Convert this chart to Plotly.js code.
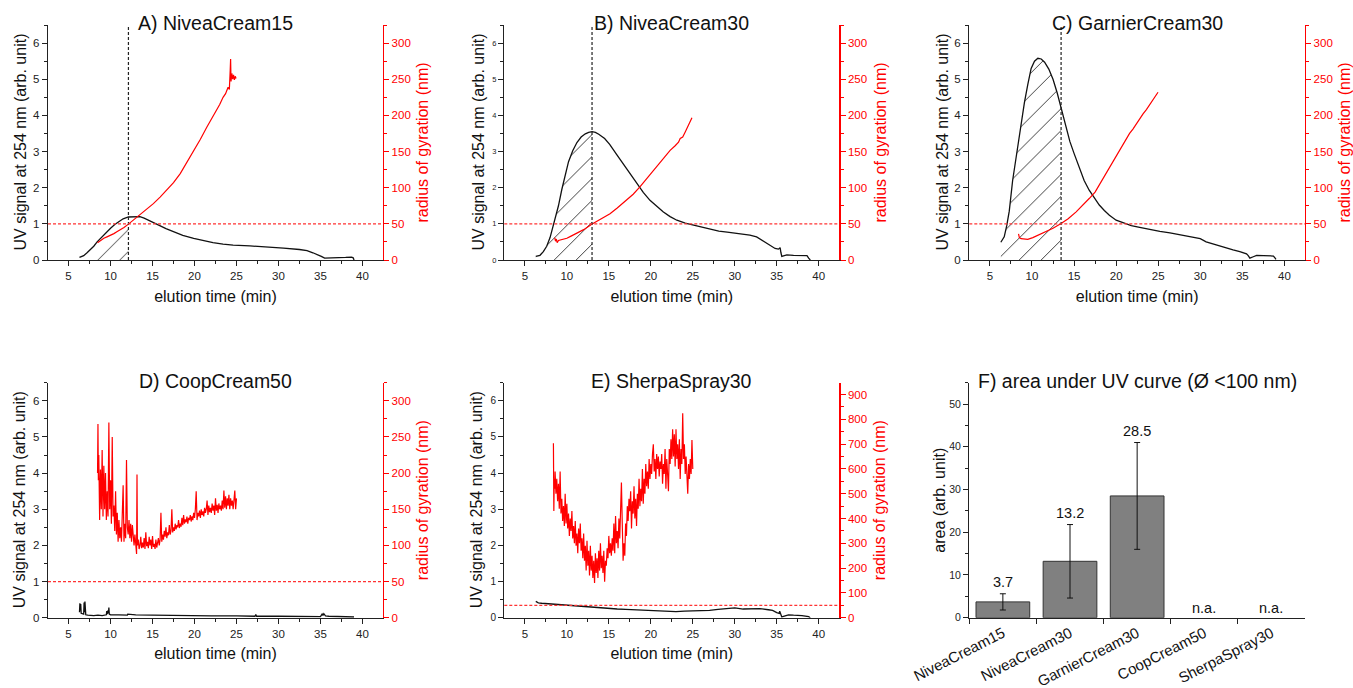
<!DOCTYPE html>
<html><head><meta charset="utf-8">
<script src="https://cdn.plot.ly/plotly-3.0.1.min.js"></script>
<style>html,body{margin:0;padding:0;background:#fff}#chart{width:1353px;height:688px}</style>
</head><body><div id="chart"></div>
<script>
// ---------- data ----------
const A_uv_t = [6.3, 6.8, 7.2, 7.6, 8.0, 8.4, 8.8, 9.2, 9.6, 10.0, 10.5, 11.0, 11.5, 12.13, 12.6, 13.0, 13.5, 14.0, 14.5, 15.1, 15.8, 16.6, 17.5, 18.6, 19.9, 21.0, 22.2, 23.4, 24.6, 26.6, 28.6, 30.6, 32.5, 33.4, 34.1, 34.7, 35.1, 35.5, 36.0, 37.0, 38.0, 38.7, 38.9, 39.0];
const A_uv = [0.07, 0.12, 0.2, 0.28, 0.38, 0.5, 0.6, 0.7, 0.8, 0.88, 0.98, 1.07, 1.14, 1.19, 1.2, 1.21, 1.2, 1.16, 1.11, 1.05, 0.96, 0.87, 0.78, 0.68, 0.6, 0.54, 0.48, 0.44, 0.41, 0.39, 0.37, 0.33, 0.29, 0.26, 0.2, 0.15, 0.1, 0.05, 0.05, 0.06, 0.07, 0.08, 0.06, 0.0];
const A_rg_t = [8.45, 8.8, 9.2, 9.57, 10.0, 10.4, 10.75, 11.2, 11.6, 12.13, 12.8, 13.5, 14.3, 15.1, 15.9, 16.7, 17.5, 18.3, 19.1, 19.86, 20.7, 21.46, 22.1, 22.65, 23.0, 23.4, 23.7, 24.0, 24.15, 24.25, 24.3, 24.35, 24.45, 24.55, 24.65, 24.75, 24.85, 24.95];
const A_rg = [24, 27, 30, 32, 34, 36.5, 39, 42, 45, 49.6, 56, 64, 71, 78, 87, 96.5, 107, 119.5, 135, 151.6, 167, 183.7, 196, 206.7, 215, 225, 230, 239, 236, 262, 278, 247, 258, 250, 256, 249, 254, 251];
const A_cut = 12.13;

const B_uv_t = [6.3, 6.8, 7.2, 7.6, 8.0, 8.5, 9.0, 9.4, 9.8, 10.2, 10.7, 11.2, 11.7, 12.2, 12.6, 13.0, 13.4, 13.8, 14.5, 15.1, 15.9, 16.7, 17.5, 18.3, 19.1, 19.9, 20.7, 21.5, 22.3, 23.1, 24.1, 25.1, 26.1, 27.1, 28.1, 29.1, 30.1, 31.0, 31.8, 32.6, 33.2, 33.8, 34.3, 34.8, 35.2, 35.4, 35.5, 35.6, 35.9, 36.2, 37.0, 38.0, 38.6, 38.8, 39.0];
const B_uv = [0.1, 0.13, 0.23, 0.38, 0.62, 1.05, 1.5, 1.95, 2.35, 2.72, 3.02, 3.25, 3.4, 3.49, 3.53, 3.55, 3.53, 3.48, 3.36, 3.2, 2.93, 2.66, 2.38, 2.11, 1.87, 1.65, 1.48, 1.33, 1.2, 1.1, 1.02, 0.96, 0.9, 0.84, 0.8, 0.77, 0.74, 0.71, 0.69, 0.64, 0.55, 0.46, 0.38, 0.32, 0.3, 0.34, 0.2, 0.1, 0.12, 0.14, 0.13, 0.12, 0.12, 0.05, 0.0];
const B_rg_t = [8.55, 8.65, 8.75, 8.85, 9.0, 9.3, 9.6, 10.0, 10.5, 11.2, 12.0, 12.96, 13.8, 14.5, 15.14, 16.0, 17.1, 17.9, 18.7, 19.5, 20.2, 20.7, 21.5, 22.3, 22.9, 23.3, 23.5, 23.8, 24.1, 24.4, 24.7, 24.9];
const B_rg = [31, 26, 29, 24, 27, 28, 28.5, 30, 33, 36.7, 42, 49.6, 55, 60, 64, 72, 82.7, 91, 101, 112, 122, 128.6, 140, 151.6, 158, 163, 168, 170, 177, 184, 190, 196.6];
const B_cut = 13.0;

const C_uv_t = [6.3, 6.7, 7.0, 7.3, 7.7, 8.2, 8.5, 8.8, 9.1, 9.5, 9.9, 10.3, 10.7, 11.1, 11.5, 12.0, 12.5, 13.0, 13.46, 14.0, 14.5, 15.0, 15.6, 16.2, 16.8, 17.4, 18.0, 18.6, 19.2, 20.0, 20.8, 21.8, 22.8, 24.0, 25.2, 26.4, 27.6, 28.4, 29.2, 30.0, 30.7, 31.5, 32.3, 33.1, 33.9, 34.7, 35.5, 35.7, 35.9, 36.3, 36.7, 37.5, 38.7, 38.9, 39.0];
const C_uv = [0.49, 0.64, 0.95, 1.35, 2.2, 3.0, 3.45, 3.9, 4.35, 4.85, 5.3, 5.5, 5.58, 5.56, 5.47, 5.28, 5.0, 4.62, 4.2, 3.72, 3.28, 2.95, 2.55, 2.2, 1.93, 1.72, 1.52, 1.37, 1.24, 1.1, 1.03, 0.95, 0.9, 0.84, 0.79, 0.75, 0.7, 0.67, 0.64, 0.59, 0.5, 0.44, 0.38, 0.32, 0.28, 0.23, 0.17, 0.12, 0.05, 0.09, 0.13, 0.12, 0.11, 0.05, 0.02];
const C_rg_t = [8.4, 8.45, 8.5, 8.7, 9.1, 9.5, 10.1, 10.8, 11.7, 12.5, 13.46, 14.3, 15.25, 16.0, 16.8, 17.5, 18.4, 19.2, 20.0, 20.8, 21.6, 22.0, 22.4, 22.8, 23.2, 23.6, 24.0, 24.5, 24.98];
const C_rg = [36, 33, 31, 29.5, 28.5, 28.5, 31, 35, 39, 44, 50.5, 57, 66.6, 75, 85, 94, 112, 128, 144, 160, 175, 181, 188, 196, 202, 208, 215, 223, 232];
const C_cut = 13.46;

const D_uv_t = [6.3, 6.35, 6.4, 6.45, 6.5, 6.8, 6.85, 6.9, 6.95, 7.0, 7.05, 7.3, 7.6, 8.0, 8.5, 9.0, 9.5, 9.55, 9.6, 9.7, 9.75, 9.8, 9.85, 10.0, 11.0, 12.0, 12.05, 13, 15, 17, 20, 22, 25, 27.2, 27.3, 27.4, 30, 33, 35.0, 35.2, 35.3, 35.4, 35.6, 36.0, 37, 38, 39];
const D_uv = [0.15, 0.4, 0.2, 0.38, 0.12, 0.1, 0.42, 0.15, 0.45, 0.12, 0.08, 0.07, 0.06, 0.06, 0.07, 0.06, 0.08, 0.18, 0.1, 0.2, 0.12, 0.28, 0.1, 0.08, 0.08, 0.07, 0.1, 0.08, 0.07, 0.06, 0.05, 0.05, 0.05, 0.04, 0.09, 0.04, 0.04, 0.03, 0.03, 0.1, 0.06, 0.11, 0.05, 0.04, 0.03, 0.02, 0.02];
const D_rg_t = [
 8.45, 8.5, 8.55, 8.6, 8.7, 8.8, 8.9, 9.0, 9.1, 9.2,
 9.3, 9.4, 9.5, 9.6, 9.7, 9.8, 9.9, 10.0, 10.1, 10.2,
 10.3, 10.4, 10.5, 10.6, 10.7, 10.8, 10.9, 11.0, 11.1, 11.2,
 11.3, 11.4, 11.5, 11.6, 11.7, 11.8, 11.9, 12.0, 12.1, 12.2,
 12.3, 12.4, 12.5, 12.6, 12.7, 12.8, 12.9, 13.0, 13.1, 13.15,
 13.2, 13.3, 13.4, 13.5, 13.6, 13.7, 13.8, 13.9, 14.0, 14.1,
 14.2, 14.3, 14.4, 14.5, 14.6, 14.7, 14.8, 14.9, 15.0, 15.1,
 15.2, 15.3, 15.4, 15.5, 15.6, 15.7, 15.8, 15.9, 16.0, 16.1,
 16.2, 16.3, 16.4, 16.5, 16.6, 16.7, 16.8, 16.9, 17.0, 17.1,
 17.2, 17.3, 17.4, 17.5, 17.6, 17.7, 17.8, 17.9, 18.0, 18.1,
 18.2, 18.3, 18.4, 18.5, 18.6, 18.7, 18.8, 18.9, 19.0, 19.1,
 19.2, 19.3, 19.4, 19.5, 19.6, 19.7, 19.8, 19.9, 20.0, 20.1,
 20.2, 20.3, 20.4, 20.5, 20.6, 20.7, 20.8, 20.9, 21.0, 21.1,
 21.2, 21.3, 21.4, 21.5, 21.6, 21.7, 21.8, 21.9, 22.0, 22.1,
 22.2, 22.3, 22.4, 22.5, 22.6, 22.7, 22.8, 22.9, 23.0, 23.1,
 23.2, 23.3, 23.4, 23.5, 23.6, 23.7, 23.8, 23.9, 24.0, 24.1,
 24.2, 24.3, 24.4, 24.5, 24.6, 24.7, 24.8, 24.9, 25.0];
const D_rg = [
 200, 268, 190, 225, 135, 205, 150, 232, 140, 210,
 150, 200, 135, 175, 140, 270, 150, 190, 130, 250,
 140, 155, 120, 175, 115, 145, 105, 135, 110, 125,
 105, 140, 183, 105, 130, 110, 218, 125, 115, 135,
 110, 130, 105, 128, 110, 100, 115, 95, 88, 198,
 100, 108, 95, 100, 112, 96, 104, 97, 110, 95,
 118, 99, 105, 96, 112, 100, 108, 95, 113, 98,
 102, 95, 108, 97, 104, 110, 100, 108, 145, 105,
 115, 108, 120, 112, 125, 110, 118, 114, 128, 115,
 120, 150, 118, 125, 120, 130, 122, 128, 125, 135,
 124, 130, 126, 138, 128, 142, 130, 136, 132, 140,
 130, 138, 135, 142, 133, 140, 135, 145, 138, 150,
 175, 135, 145, 140, 148, 138, 150, 142, 147, 140,
 152, 145, 150, 162, 142, 155, 146, 152, 145, 158,
 148, 155, 142, 165, 148, 156, 145, 158, 150, 155,
 148, 162, 150, 176, 152, 168, 150, 165, 155, 170,
 150, 165, 155, 162, 150, 160, 176, 150, 165];

const E_uv_t = [6.3, 6.6, 7.0, 8, 9, 10, 11, 12, 13, 14, 15, 16, 17, 18, 19, 20, 21, 22, 23, 24, 25, 26, 27, 28, 29, 30, 31, 32, 32.5, 33, 34, 34.5, 35.0, 35.3, 35.35, 35.45, 35.6, 36.0, 36.4, 37, 38, 38.8, 39.0];
const E_uv = [0.45, 0.41, 0.4, 0.38, 0.36, 0.34, 0.32, 0.31, 0.29, 0.28, 0.26, 0.24, 0.23, 0.22, 0.2, 0.19, 0.18, 0.17, 0.17, 0.18, 0.18, 0.19, 0.2, 0.23, 0.26, 0.27, 0.24, 0.25, 0.26, 0.25, 0.22, 0.2, 0.14, 0.12, 0.18, 0.08, 0.02, 0.05, 0.08, 0.07, 0.06, 0.03, 0.0];
const E_rg_t = [
 8.4, 8.45, 8.5, 8.55, 8.6, 8.7, 8.8, 8.9, 9.0, 9.1,
 9.2, 9.3, 9.4, 9.5, 9.6, 9.7, 9.8, 9.9, 10.0, 10.1,
 10.2, 10.3, 10.4, 10.5, 10.6, 10.7, 10.8, 10.9, 11.0, 11.1,
 11.2, 11.3, 11.4, 11.5, 11.6, 11.7, 11.8, 11.9, 12.0, 12.1,
 12.2, 12.3, 12.4, 12.5, 12.6, 12.7, 12.8, 12.9, 13.0, 13.1,
 13.2, 13.3, 13.4, 13.5, 13.6, 13.7, 13.8, 13.9, 14.0, 14.1,
 14.2, 14.3, 14.4, 14.5, 14.6, 14.7, 14.8, 14.9, 15.0, 15.1,
 15.2, 15.3, 15.4, 15.5, 15.6, 15.7, 15.8, 15.9, 16.0, 16.1,
 16.2, 16.3, 16.4, 16.5, 16.6, 16.7, 16.8, 16.9, 17.0, 17.1,
 17.2, 17.3, 17.4, 17.5, 17.6, 17.7, 17.8, 17.9, 18.0, 18.1,
 18.2, 18.3, 18.4, 18.5, 18.6, 18.7, 18.8, 18.9, 19.0, 19.1,
 19.2, 19.3, 19.4, 19.5, 19.6, 19.7, 19.8, 19.9, 20.0, 20.1,
 20.2, 20.3, 20.4, 20.5, 20.6, 20.7, 20.8, 20.9, 21.0, 21.1,
 21.2, 21.3, 21.4, 21.5, 21.6, 21.7, 21.8, 21.9, 22.0, 22.1,
 22.2, 22.3, 22.4, 22.5, 22.6, 22.7, 22.8, 22.9, 23.0, 23.1,
 23.2, 23.3, 23.4, 23.5, 23.6, 23.7, 23.8, 23.9, 24.0, 24.1,
 24.2, 24.3, 24.4, 24.5, 24.6, 24.7, 24.8, 24.9, 25.0];
const E_rg = [
 704, 430, 560, 520, 590, 500, 560, 470, 540, 440,
 590, 420, 480, 390, 450, 370, 500, 380, 460, 360,
 420, 330, 400, 350, 430, 320, 370, 300, 390, 290,
 340, 260, 360, 300, 380, 270, 320, 240, 340, 230,
 290, 190, 310, 210, 270, 170, 290, 190, 250, 160,
 230, 140, 260, 180, 240, 160, 270, 190, 300, 200,
 250, 180, 270, 145, 230, 210, 280, 240, 330, 260,
 300, 250, 320, 270, 380, 260, 410, 300, 350, 280,
 400, 320, 450, 545, 380, 230, 300, 250, 380, 330,
 450, 390, 480, 430, 510, 360, 470, 420, 530, 400,
 480, 370, 500, 440, 560, 450, 520, 470, 600, 460,
 560, 500, 620, 530, 590, 520, 640, 560, 620, 580,
 660, 700, 590, 640, 560, 660, 600, 650, 570, 630,
 600, 660, 540, 620, 580, 680, 520, 640, 580, 510,
 680, 620, 720, 640, 760, 650, 740, 610, 760, 640,
 700, 600, 720, 560, 680, 620, 825, 640, 700, 580,
 650, 540, 500, 620, 560, 640, 580, 717, 600];

const F_categories = ['NiveaCream15', 'NiveaCream30', 'GarnierCream30', 'CoopCream50', 'SherpaSpray30'];
const F_values = [3.7, 13.2, 28.5, null, null];
const F_errors = [1.9, 8.6, 12.5, null, null];
const F_labels = ['3.7', '13.2', '28.5', 'n.a.', 'n.a.'];
const Rg_threshold = 50;

// ---------- layout helpers ----------
const W = 1353, H = 688;
const FONT = 'Liberation Sans, Arial, sans-serif';
const px = (a, b) => [a / W, b / W];
const py = (top, bot) => [1 - bot / H, 1 - top / H];
const RED = '#ff0000';

const panels = [
  {title: 'A) NiveaCream15', t: A_uv_t, uv: A_uv, rt: A_rg_t, rg: A_rg, cut: A_cut, xp: [48, 383], yp: [25, 260], rmax: 325, rdt: 50, lfs: 11.5, lt: 20, rtx: 422},
  {title: 'B) NiveaCream30', t: B_uv_t, uv: B_uv, rt: B_rg_t, rg: B_rg, cut: B_cut, xp: [504.3, 839.3], yp: [25, 260], rmax: 325, rdt: 50, lfs: 7.5, lt: 478, rtx: 880},
  {title: 'C) GarnierCream30', t: C_uv_t, uv: C_uv, rt: C_rg_t, rg: C_rg, cut: C_cut, xp: [969.3, 1305], yp: [25, 260], rmax: 325, rdt: 50, lfs: 11.5, lt: 942, rtx: 1344},
  {title: 'D) CoopCream50', t: D_uv_t, uv: D_uv, rt: D_rg_t, rg: D_rg, cut: null, xp: [48, 383], yp: [382.7, 617.7], rmax: 325, rdt: 50, lfs: 11.5, lt: 19, rtx: 422},
  {title: 'E) SherpaSpray30', t: E_uv_t, uv: E_uv, rt: E_rg_t, rg: E_rg, cut: null, xp: [504.3, 839.3], yp: [382.7, 617.7], rmax: 948, rdt: 100, lfs: 10, lt: 476, rtx: 879}
];

const data = [];
const layout = {
  width: W, height: H, margin: {l: 0, r: 0, t: 0, b: 0},
  paper_bgcolor: '#fff', plot_bgcolor: 'rgba(0,0,0,0)',
  showlegend: false, font: {family: FONT, color: '#222'},
  shapes: [], annotations: []
};

function axisBase(color) {
  return {
    showgrid: false, zeroline: false, showline: true, linecolor: color, linewidth: 1.3,
    ticks: 'outside', ticklen: 5, tickwidth: 1, tickcolor: color, automargin: false,
    fixedrange: true
  };
}
function vTitle(text, xPx, yTop, yBot, color) {
  layout.annotations.push({xref: 'paper', yref: 'paper', x: xPx / W, y: 1 - (yTop + yBot) / 2 / H,
    text: text, textangle: -90, showarrow: false, xanchor: 'center', yanchor: 'middle',
    font: {size: 16, color: color, family: FONT}});
}

panels.forEach((p, i) => {
  const xn = i === 0 ? 'x' : 'x' + (i + 1);
  const yl = 2 * i + 1, yr = 2 * i + 2;
  const yln = yl === 1 ? 'y' : 'y' + yl;
  const yrn = 'y' + yr;
  layout['xaxis' + (i === 0 ? '' : i + 1)] = Object.assign(axisBase('#222'), {
    domain: px(p.xp[0], p.xp[1]), anchor: yln, range: [2.55, 42.45],
    tick0: 0, dtick: 5, minor: {ticks: 'outside', ticklen: 3, tickcolor: '#222', dtick: 2.5},
    tickfont: {size: 11.5, color: '#222', family: FONT},
    title: {text: 'elution time (min)', font: {size: 16, color: '#111', family: FONT}, standoff: 9}
  });
  layout['yaxis' + (yl === 1 ? '' : yl)] = Object.assign(axisBase('#222'), {
    domain: py(p.yp[0], p.yp[1]), anchor: xn, range: [0, 6.5],
    tick0: 0, dtick: 1, minor: {ticks: 'outside', ticklen: 3, tickcolor: '#222', dtick: 0.5},
    tickfont: {size: p.lfs, color: '#222', family: FONT}
  });
  layout['yaxis' + yr] = Object.assign(axisBase(RED), {
    overlaying: yln, side: 'right', anchor: xn, range: [0, p.rmax],
    tick0: 0, dtick: p.rdt, minor: {ticks: 'outside', ticklen: 3, tickcolor: RED, dtick: p.rdt / 2},
    tickfont: {size: 11.5, color: RED, family: FONT}
  });
  vTitle('UV signal at 254 nm (arb. unit)', p.lt, p.yp[0], p.yp[1], '#111');
  vTitle('radius of gyration (nm)', p.rtx, p.yp[0], p.yp[1], RED);

  if (p.cut !== null) {
    const hx = [], hy = [];
    p.t.forEach((v, k) => { if (v <= p.cut) { hx.push(v); hy.push(p.uv[k]); } });
    data.push({
      type: 'scatter', mode: 'none', x: hx, y: hy, xaxis: xn, yaxis: yln,
      fill: 'tozeroy', fillcolor: 'rgba(50,50,50,1)',
      fillpattern: {shape: '/', size: 15.5, solidity: 0.06, fgcolor: '#333', bgcolor: 'rgba(0,0,0,0)', fillmode: 'replace'},
      hoverinfo: 'skip'
    });
    layout.shapes.push({type: 'line', xref: xn, yref: yln + ' domain', x0: p.cut, x1: p.cut, y0: 0, y1: 1,
      line: {color: '#222', width: 1.2, dash: '3px,2px'}});
  }
  data.push({type: 'scatter', mode: 'lines', x: p.t, y: p.uv, xaxis: xn, yaxis: yln,
    line: {color: '#111', width: 1.3}, hoverinfo: 'skip'});
  data.push({type: 'scatter', mode: 'lines', x: p.rt, y: p.rg, xaxis: xn, yaxis: yrn,
    line: {color: RED, width: 1.2}, hoverinfo: 'skip'});
  layout.shapes.push({type: 'line', xref: xn + ' domain', yref: yrn, x0: 0, x1: 1, y0: Rg_threshold, y1: Rg_threshold,
    line: {color: '#ff3333', width: 1.3, dash: '3px,2px'}});
  layout.annotations.push({xref: 'paper', yref: 'paper', x: (p.xp[0] + p.xp[1]) / 2 / W, y: 1 - (p.yp[0] - 2) / H,
    text: p.title, showarrow: false, xanchor: 'center', yanchor: 'middle', font: {size: 19.5, color: '#111', family: FONT}});
});

// Panel F: bar chart
layout.xaxis6 = Object.assign(axisBase('#222'), {
  domain: px(969.3, 1305), anchor: 'y11', type: 'category', range: [-0.5, 4.5],
  tickson: 'boundaries', tickangle: -27, tickfont: {size: 15, color: '#111', family: FONT}
});
layout.yaxis11 = Object.assign(axisBase('#222'), {
  domain: py(382.7, 617.7), anchor: 'x6', range: [0, 55],
  tick0: 0, dtick: 10, minor: {ticks: 'outside', ticklen: 3, tickcolor: '#222', dtick: 5},
  tickfont: {size: 10.5, color: '#222', family: FONT}
});
vTitle('area (arb. unit)', 939.5, 382.7, 617.7, '#111');
data.push({
  type: 'bar', x: F_categories, y: F_values, xaxis: 'x6', yaxis: 'y11', width: 0.8,
  marker: {color: '#808080', line: {color: '#333', width: 1}},
  error_y: {type: 'data', array: F_errors, visible: true, color: '#111', thickness: 1, width: 3},
  hoverinfo: 'skip'
});
F_categories.forEach((c, k) => {
  const v = F_values[k];
  const top = v === null ? 0 : v + F_errors[k];
  layout.annotations.push({xref: 'x6', yref: 'y11', x: c, y: top, text: F_labels[k], showarrow: false,
    xanchor: 'center', yanchor: 'bottom', yshift: v === null ? 0 : 2, font: {size: 14.5, color: '#111', family: FONT}});
});
layout.annotations.push({xref: 'paper', yref: 'paper', x: 1137 / W, y: 1 - 380.7 / H,
  text: 'F) area under UV curve (Ø <100 nm)', showarrow: false, xanchor: 'center', yanchor: 'middle',
  font: {size: 19.5, color: '#111', family: FONT}});

Plotly.newPlot('chart', data, layout, {staticPlot: true, displayModeBar: false});
</script>
</body></html>
